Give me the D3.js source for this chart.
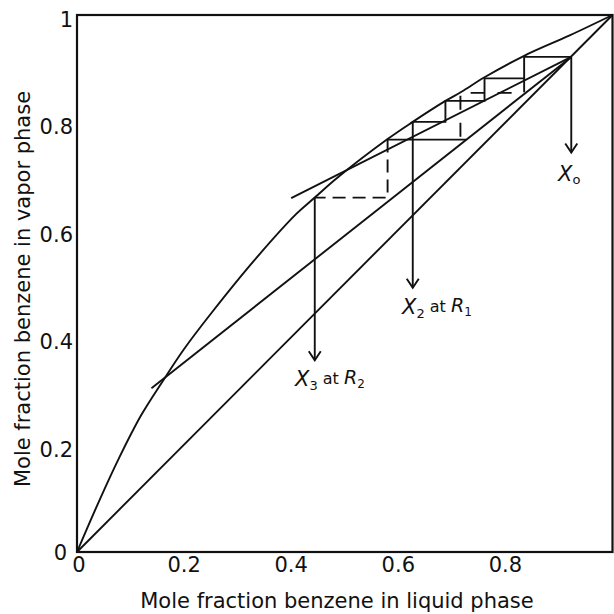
<!DOCTYPE html>
<html><head><meta charset="utf-8">
<script src="https://cdn.jsdelivr.net/npm/d3@7"></script>
<style>body{margin:0;background:#fff}svg{display:block}text{font-family:"DejaVu Sans",Verdana,sans-serif;fill:#111}</style>
</head><body><svg id="c" width="614" height="614"></svg>
<script>
// ---- data ----
const xTicks = [0, 0.2, 0.4, 0.6, 0.8];
const xTickLabels = ["0", "0.2", "0.4", "0.6", "0.8"];
const yTicks = [0, 0.2, 0.4, 0.6, 0.8, 1];
const yTickLabels = ["0", "0.2", "0.4", "0.6", "0.8", "1"];
const xTitle = "Mole fraction benzene in liquid phase";
const yTitle = "Mole fraction benzene in vapor phase";

// equilibrium curve
const eqX = [0, 0.04, 0.08, 0.12, 0.16, 0.2, 0.251, 0.331, 0.41, 0.444, 0.485, 0.58, 0.627, 0.688, 0.718, 0.761, 0.835, 0.92, 1];
const eqY = [0, 0.092, 0.178, 0.255, 0.318, 0.378, 0.445, 0.543, 0.63, 0.66, 0.696, 0.769, 0.801, 0.84, 0.857, 0.884, 0.924, 0.962, 1];
// diagonal y = x
const diagX = [0, 1];
const diagY = [0, 1];
// operating line, reflux R1
const opR1X = [0.40, 0.923];
const opR1Y = [0.659, 0.922];
// operating line, reflux R2
const opR2X = [0.139, 0.923];
const opR2Y = [0.305, 0.922];
// stepping at R1 (solid)
const stepR1X = [0.923, 0.835, 0.835, 0.761, 0.761, 0.688, 0.688, 0.627];
const stepR1Y = [0.922, 0.922, 0.882, 0.882, 0.84, 0.84, 0.801, 0.801];
// stepping at R2 (dashed parts)
const stepR2aX = [0.835, 0.835, 0.716, 0.716];
const stepR2aY = [0.882, 0.855, 0.855, 0.768];
const stepR2bX = [0.727, 0.58];   // solid horizontal
const stepR2bY = [0.768, 0.768];
const stepR2cX = [0.58, 0.58, 0.444];
const stepR2cY = [0.768, 0.66, 0.66];
// arrows: x, yStart, yEnd
const arrowX = [0.923, 0.627, 0.444];
const arrowY0 = [0.922, 0.801, 0.66];
const arrowY1 = [0.744, 0.492, 0.357];

// ---- drawing ----
const svg = d3.select("#c");
const x = d3.scaleLinear().domain([0, 1]).range([77, 612.5]);
const y = d3.scaleLinear().domain([0, 1]).range([552, 15]);
const line = d3.line().x(d => x(d[0])).y(d => y(d[1]));
const curve = d3.line().x(d => x(d[0])).y(d => y(d[1])).curve(d3.curveCatmullRom.alpha(0.5));
const zip = (a, b) => a.map((v, i) => [v, b[i]]);

// frame
svg.append("rect").attr("x", x(0)).attr("y", y(1)).attr("width", x(1) - x(0)).attr("height", y(0) - y(1))
  .attr("fill", "none").attr("stroke", "#111").attr("stroke-width", 2.2);

const g = svg.append("g").attr("fill", "none").attr("stroke", "#111").attr("stroke-width", 1.9);
g.append("path").attr("d", line(zip(diagX, diagY)));
g.append("path").attr("d", curve(zip(eqX, eqY)));
g.append("path").attr("d", line(zip(opR1X, opR1Y)));
g.append("path").attr("d", line(zip(opR2X, opR2Y)));
g.append("path").attr("d", line(zip(stepR1X, stepR1Y)));
g.append("path").attr("d", line(zip(stepR2aX, stepR2aY))).attr("stroke-dasharray", "14,13");
g.append("path").attr("d", line(zip(stepR2bX, stepR2bY)));
g.append("path").attr("d", line(zip(stepR2cX, stepR2cY))).attr("stroke-dasharray", "13,7");

arrowX.forEach((ax, i) => {
  const px = x(ax), y0 = y(arrowY0[i]), y1 = y(arrowY1[i]);
  g.append("path").attr("d", `M${px},${y0}V${y1}`);
  g.append("path").attr("d", `M${px - 6},${y1 - 9}L${px},${y1}L${px + 6},${y1 - 9}`);
});

// axes tick labels
svg.append("g").selectAll("text").data(xTicks).join("text")
  .attr("x", d => x(d) + (d === 0 ? 2 : 0)).attr("y", 572).attr("text-anchor", "middle")
  .attr("font-size", 21).text((d, i) => xTickLabels[i]);
svg.append("g").selectAll("text").data(yTicks).join("text")
  .attr("x", d => d === 0 ? 67 : 73).attr("y", d => y(d) + (d === 0 ? 8 : 12)).attr("text-anchor", "end")
  .attr("font-size", 21).text((d, i) => yTickLabels[i]);

// axis titles
svg.append("text").attr("x", 337).attr("y", 608).attr("text-anchor", "middle").attr("font-size", 21).text(xTitle);
svg.append("text").attr("transform", "translate(30,289) rotate(-90)").attr("text-anchor", "middle")
  .attr("font-size", 21).text(yTitle);

// annotations
function label(px, py, parts) {
  const t = svg.append("text").attr("x", px).attr("y", py);
  parts.forEach(p => {
    const s = t.append("tspan").text(p.t).attr("font-size", p.s);
    if (p.i) s.attr("font-style", "italic");
    if (p.dy) s.attr("dy", p.dy);
  });
}
label(558, 181, [{t: "X", s: 21, i: 1}, {t: "o", s: 13, dy: 3}]);
label(402, 314, [{t: "X", s: 21, i: 1}, {t: "2", s: 13, dy: 4}, {t: " at ", s: 16, dy: -6}, {t: "R", s: 19, i: 1}, {t: "1", s: 12, dy: 4}]);
label(295, 386, [{t: "X", s: 21, i: 1}, {t: "3", s: 13, dy: 4}, {t: " at ", s: 16, dy: -6}, {t: "R", s: 19, i: 1}, {t: "2", s: 12, dy: 4}]);
</script></body></html>
